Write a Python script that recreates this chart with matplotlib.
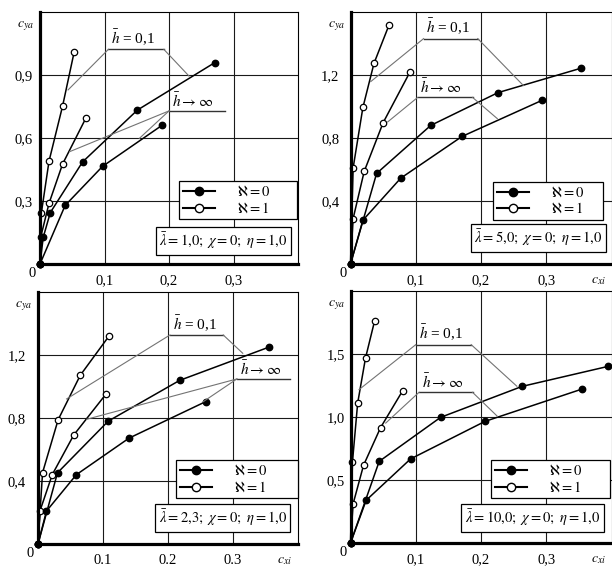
import matplotlib.pyplot as plt
from matplotlib.lines import Line2D

plt.rcParams['font.family'] = ['Liberation Serif', 'DejaVu Serif']
plt.rcParams['mathtext.fontset'] = 'stix'

# --- data (c_xi, c_ya) ---
# lambda = 1,0 (top left)
l1_open_h_x = [0, 0.002, 0.014, 0.035, 0.053]
l1_open_h_y = [0, 0.241, 0.490, 0.752, 1.010]
l1_open_inf_x = [0, 0.001, 0.014, 0.035, 0.071]
l1_open_inf_y = [0, 0.127, 0.289, 0.476, 0.694]
l1_fill_h_x = [0, 0.005, 0.016, 0.066, 0.151, 0.271]
l1_fill_h_y = [0, 0.127, 0.245, 0.486, 0.733, 0.959]
l1_fill_inf_x = [0, 0.039, 0.097, 0.189]
l1_fill_inf_y = [0, 0.279, 0.465, 0.660]

# lambda = 5,0 (top right)
l5_open_h_x = [0, 0.004, 0.019, 0.036, 0.059]
l5_open_h_y = [0, 0.609, 0.994, 1.274, 1.517]
l5_open_inf_x = [0, 0.004, 0.021, 0.050, 0.091]
l5_open_inf_y = [0, 0.288, 0.588, 0.897, 1.218]
l5_fill_h_x = [0, 0.040, 0.123, 0.226, 0.354]
l5_fill_h_y = [0, 0.575, 0.880, 1.088, 1.244]
l5_fill_inf_x = [0, 0.019, 0.077, 0.171, 0.294]
l5_fill_inf_y = [0, 0.278, 0.545, 0.810, 1.040]

# lambda = 2,3 (bottom left)
l23_open_h_x = [0, 0.007, 0.031, 0.065, 0.109]
l23_open_h_y = [0, 0.453, 0.789, 1.071, 1.319]
l23_open_inf_x = [0, 0.003, 0.022, 0.055, 0.105]
l23_open_inf_y = [0, 0.210, 0.441, 0.692, 0.954]
l23_fill_h_x = [0, 0.030, 0.108, 0.218, 0.356]
l23_fill_h_y = [0, 0.452, 0.780, 1.039, 1.251]
l23_fill_inf_x = [0, 0.013, 0.059, 0.140, 0.258]
l23_fill_inf_y = [0, 0.209, 0.440, 0.672, 0.904]

# lambda = 10,0 (bottom right)
l10_open_h_x = [0, 0.003, 0.011, 0.023, 0.037]
l10_open_h_y = [0, 0.643, 1.111, 1.468, 1.764]
l10_open_inf_x = [0, 0.004, 0.020, 0.046, 0.080]
l10_open_inf_y = [0, 0.311, 0.617, 0.915, 1.209]
l10_fill_h_x = [0, 0.044, 0.138, 0.263, 0.395]
l10_fill_h_y = [0, 0.648, 0.997, 1.243, 1.402]
l10_fill_inf_x = [0, 0.024, 0.092, 0.206, 0.355]
l10_fill_inf_y = [0, 0.339, 0.667, 0.965, 1.222]

# tick labels
xticks = [0.1, 0.2, 0.3]
xlabels_comma = ['0,1', '0,2', '0,3']
xlabels_dot = ['0.1', '0.2', '0.3']
l1_yticks, l1_ylabels = [0.3, 0.6, 0.9], ['0,3', '0,6', '0,9']
l5_yticks, l5_ylabels = [0.4, 0.8, 1.2], ['0,4', '0,8', '1,2']
l23_yticks, l23_ylabels = [0.4, 0.8, 1.2], ['0,4', '0,8', '1,2']
l10_yticks, l10_ylabels = [0.5, 1.0, 1.5], ['0,5', '1,0', '1,5']

params = [r'$\bar{\lambda} = 1{,}0;\ \chi = 0;\ \eta = 1{,}0$',
          r'$\bar{\lambda} = 5{,}0;\ \chi = 0;\ \eta = 1{,}0$',
          r'$\bar{\lambda} = 2{,}3;\ \chi = 0;\ \eta = 1{,}0$',
          r'$\bar{\lambda} = 10{,}0;\ \chi = 0;\ \eta = 1{,}0$']

panels = [
    dict(rect=[40/612, 303/567, 258/612, 252/567], ymax=1.2,
         yticks=l1_yticks, ylabels=l1_ylabels, xlabels=xlabels_comma, ypad=5, cxi=False,
         curves=[(l1_open_h_x, l1_open_h_y), (l1_open_inf_x, l1_open_inf_y),
                 (l1_fill_h_x, l1_fill_h_y), (l1_fill_inf_x, l1_fill_inf_y)],
         h01=(1.022, 0.106, 0.192, [(0, 0.0435, 0.829), (1, 0.231, 0.895)]),
         hinf=(0.729, 0.200, 0.287, [(0, 0.046, 0.535), (0, 0.154, 0.598)]),
         leg=(0.539, 0.329, 0.457), par=params[0], parbox=(0.457, 0.092)),
    dict(rect=[350.5/612, 303/567, 261/612, 252/567], ymax=1.6,
         yticks=l5_yticks, ylabels=l5_ylabels, xlabels=xlabels_comma, ypad=8, cxi=True,
         curves=[(l5_open_h_x, l5_open_h_y), (l5_open_inf_x, l5_open_inf_y),
                 (l5_fill_h_x, l5_fill_h_y), (l5_fill_inf_x, l5_fill_inf_y)],
         h01=(1.431, 0.112, 0.195, [(0, 0.031, 1.158), (1, 0.265, 1.133)]),
         hinf=(1.058, 0.103, 0.187, [(0, 0.057, 0.902), (1, 0.225, 0.923)]),
         leg=(0.547, 0.327, 0.421), par=params[1], parbox=(0.469, 0.105)),
    dict(rect=[38/612, 23/567, 260/612, 252/567], ymax=1.6,
         yticks=l23_yticks, ylabels=l23_ylabels, xlabels=xlabels_dot, ypad=9, cxi=True,
         curves=[(l23_open_h_x, l23_open_h_y), (l23_open_inf_x, l23_open_inf_y),
                 (l23_fill_h_x, l23_fill_h_y), (l23_fill_inf_x, l23_fill_inf_y)],
         h01=(1.327, 0.203, 0.285, [(0, 0.044, 0.921), (1, 0.315, 1.211)]),
         hinf=(1.048, 0.306, 0.388, [(0, 0.075, 0.792), (0, 0.254, 0.903)]),
         leg=(0.531, 0.333, 0.469), par=params[2], parbox=(0.458, 0.105)),
    dict(rect=[350.5/612, 24/567, 261/612, 252/567], ymax=2.0,
         yticks=l10_yticks, ylabels=l10_ylabels, xlabels=xlabels_comma, ypad=4, cxi=True,
         curves=[(l10_open_h_x, l10_open_h_y), (l10_open_inf_x, l10_open_inf_y),
                 (l10_fill_h_x, l10_fill_h_y), (l10_fill_inf_x, l10_fill_inf_y)],
         h01=(1.574, 0.100, 0.185, [(0, 0.013, 1.217), (1, 0.255, 1.244)]),
         hinf=(1.196, 0.105, 0.187, [(0, 0.054, 0.952), (1, 0.225, 1.006)]),
         leg=(0.538, 0.329, 0.456), par=params[3], parbox=(0.431, 0.101)),
]

fig = plt.figure(figsize=(6.12, 5.67), dpi=100)

for p in panels:
    ax = fig.add_axes(p['rect'])
    ax.set_xlim(0, 0.4)
    ax.set_ylim(0, p['ymax'])
    ax.set_xticks(xticks)
    ax.set_xticklabels(p['xlabels'])
    ax.set_yticks(p['yticks'])
    ax.set_yticklabels(p['ylabels'])
    ax.tick_params(axis='both', length=0, labelsize=10.5)
    ax.tick_params(axis='x', pad=7)
    ax.tick_params(axis='y', pad=p['ypad'])
    ax.grid(True, color='0.1', lw=0.8)
    ax.set_axisbelow(True)
    for s in ['left', 'bottom']:
        ax.spines[s].set_linewidth(2.3)
    for s in ['top', 'right']:
        ax.spines[s].set_linewidth(0.8)

    # open circles: kappa = 1, filled: kappa = 0
    for cx, cy in p['curves'][:2]:
        ax.plot(cx, cy, color='k', lw=1.1, marker='o', ms=4.6, mfc='white', mec='k', mew=0.9, clip_on=False)
    for cx, cy in p['curves'][2:]:
        ax.plot(cx, cy, color='k', lw=1.1, marker='o', ms=4.6, mfc='k', mec='k', clip_on=False)

    # h-bar labels with leader lines
    for (yl, xa, xb, leaders), txt in [(p['h01'], r'$\bar{h}$ = 0,1'), (p['hinf'], r'$\bar{h} \rightarrow \infty$')]:
        ax.plot([xa, xb], [yl, yl], color='0.2', lw=1.0, clip_on=False)
        for end, tx, ty in leaders:
            xs = xa if end == 0 else xb
            ax.plot([xs, tx], [yl, ty], color='0.45', lw=0.8)
        ax.annotate(txt, xy=(xa, yl), xytext=(2, 1), textcoords='offset points',
                    ha='left', va='bottom', fontsize=11)

    # legend
    lx, ly, lw_ = p['leg']
    handles = [Line2D([], [], color='k', lw=1.5, marker='o', ms=6, mfc='k', mec='k'),
               Line2D([], [], color='k', lw=1.5, marker='o', ms=6, mfc='white', mec='k')]
    leg = ax.legend(handles, [r'$\aleph = 0$', r'$\aleph = 1$'], loc='upper left',
                    bbox_to_anchor=(lx, ly - 0.16, lw_, 0.16), mode='expand', borderaxespad=0,
                    fontsize=10.5, handlelength=2.2, handletextpad=1.5, labelspacing=0.15,
                    borderpad=0.25, fancybox=False, framealpha=1, edgecolor='k')
    leg.get_frame().set_linewidth(0.9)

    # parameter box
    bx, by = p['parbox']
    ax.text(bx + 0.006, by, p['par'], transform=ax.transAxes, ha='left', va='center', fontsize=10.5,
            bbox=dict(boxstyle='square,pad=0.25', fc='white', ec='k', lw=0.9), zorder=6)

    # axis labels
    ax.annotate('0', xy=(0, 0), xytext=(-3, -2), textcoords='offset points', ha='right', va='top', fontsize=10.5)
    ax.annotate(r'$c_{ya}$', xy=(0, 1), xycoords='axes fraction', xytext=(-4, -5),
                textcoords='offset points', ha='right', va='top', fontsize=10)
    if p['cxi']:
        ax.annotate(r'$c_{xi}$', xy=(0.38, 0), xytext=(0, -7), textcoords='offset points',
                    ha='center', va='top', fontsize=10)

fig.savefig('out.png', dpi=100)
